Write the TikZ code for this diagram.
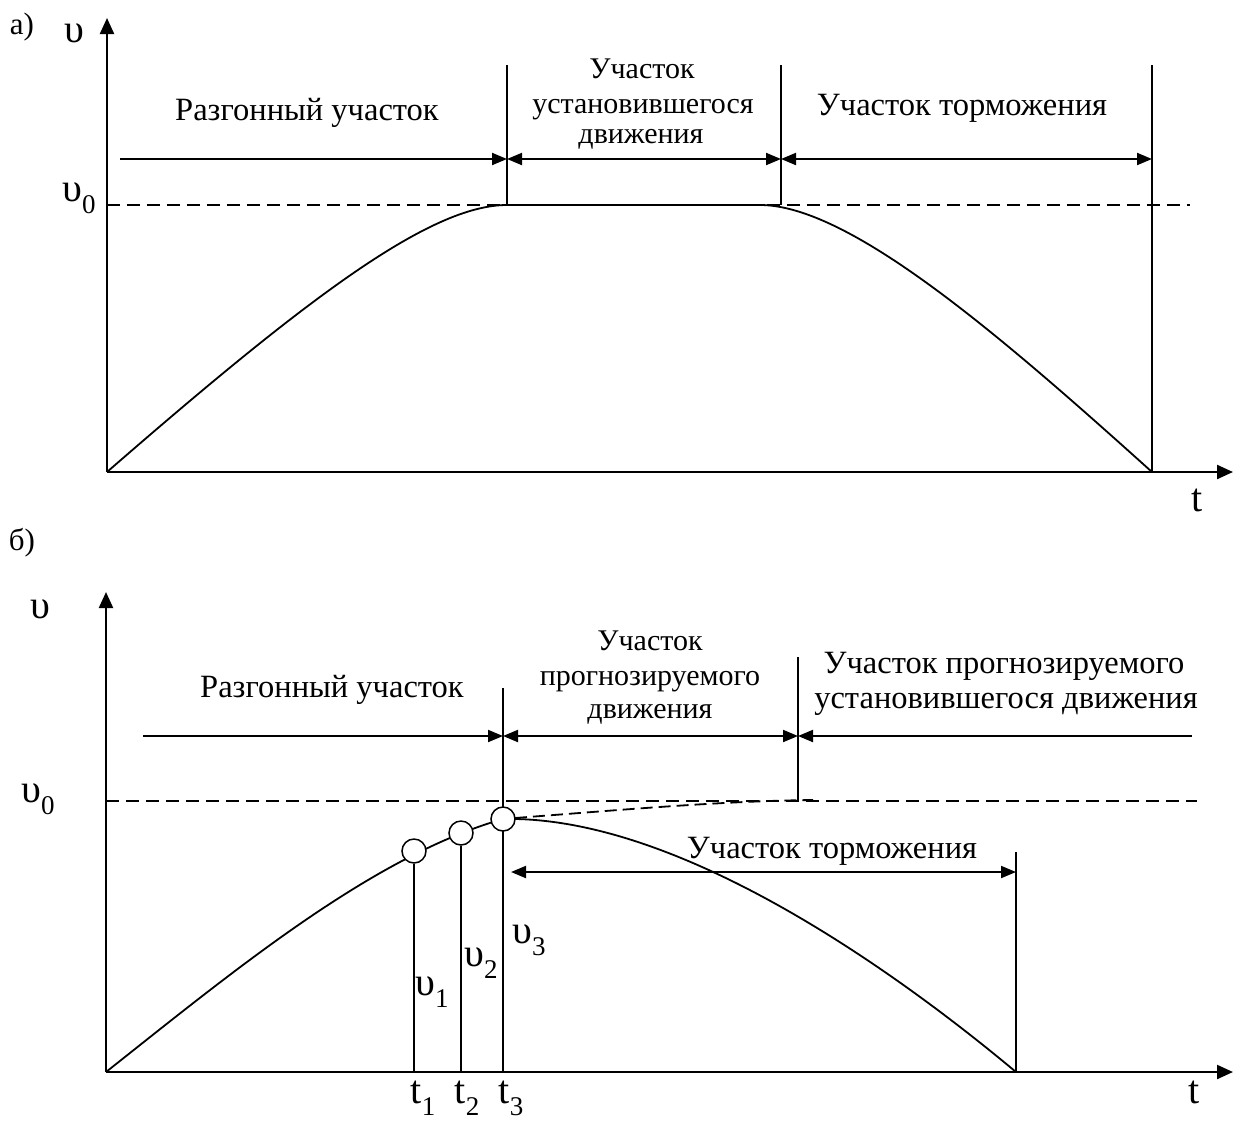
\documentclass[tikz,border=0pt]{standalone}
\usepackage{fontspec}
\setmainfont{Liberation Serif}
\usetikzlibrary{arrows.meta}
\newcommand{\lowidx}[1]{\raisebox{-0.3em}{\fontsize{27}{27}\selectfont #1}}
\begin{document}
\begin{tikzpicture}[x=1pt,y=-1pt,
  axis/.style={line width=2.2pt,-{Triangle[length=16pt,width=14pt]}},
  dim/.style={line width=2pt},
  guide/.style={line width=1.6pt},
  curve/.style={line width=1.8pt},
  dash0/.style={line width=1.4pt,dash pattern=on 13pt off 7pt},
  dash1/.style={line width=1.8pt,dash pattern=on 12pt off 6pt},
  lbl/.style={inner sep=0pt,font=\fontsize{32.5}{36}\selectfont,anchor=base},
  lbls/.style={inner sep=0pt,font=\fontsize{30}{34}\selectfont,anchor=base},
  sym/.style={inner sep=0pt,font=\fontsize{40}{44}\selectfont},
  circ/.style={circle,draw,fill=white,line width=1.5pt,minimum size=24pt,inner sep=0pt},
  tipr/.style={-{Triangle[length=15pt,width=12pt]}},
  tipb/.style={{Triangle[length=15pt,width=12pt]}-{Triangle[length=15pt,width=12pt]}},
  tipl/.style={{Triangle[length=15pt,width=12pt]}-}
]
\useasboundingbox (0,0) rectangle (1233,1120);

% ================= a) =================
\node[sym,font=\fontsize{31}{34}\selectfont] (la) at (22,27) {а)};
\coordinate (O1) at (107,472);
\coordinate (Y1) at (107,18);
\coordinate (X1) at (1233,472);
\draw[axis] (O1) -- (Y1);
\draw[axis] (O1) -- (X1);
\node[sym] (v1) at (74,33) {υ};
\node[sym] (v01) at (79,198) {υ\lowidx{0}};
\node[sym] (t1a) at (1197,500) {t};

\coordinate (D1a) at (107,205);
\coordinate (D1b) at (1190,205);
\draw[dash0] (D1a) -- (D1b);

% guides
\coordinate (G1t) at (507,65);  \coordinate (G1b) at (507,205);
\coordinate (G2t) at (781,65);  \coordinate (G2b) at (781,205);
\coordinate (G3t) at (1152,65); \coordinate (G3b) at (1152,472);
\draw[guide] (G1t) -- (G1b);
\draw[guide] (G2t) -- (G2b);
\draw[guide] (G3t) -- (G3b);

% dimension arrows
\coordinate (A1s) at (120,159);
\draw[dim,tipr] (A1s) -- (G1t |- A1s);
\draw[dim,tipb] (G1t |- A1s) -- (G2t |- A1s);
\draw[dim,tipb] (G2t |- A1s) -- (G3t |- A1s);

% curve
\draw[curve] (O1) .. controls (307,298) and (430,205) .. (507,205)
  -- (760,205) .. controls (850,205) and (1002,337) .. (G3b);

% labels
\node[lbl] (ta1) at (307,120) {Разгонный участок};
\node[lbls] (tb1) at (642,78) {Участок};
\node[lbls] (tb2) at (643,113) {установившегося};
\node[lbls] (tb3) at (641,143) {движения};
\node[lbl] (tc1) at (962,115) {Участок торможения};

% ================= b) =================
\node[sym,font=\fontsize{31}{34}\selectfont] (lb) at (22,543) {б)};
\coordinate (O2) at (106,1072);
\coordinate (Y2) at (106,592);
\coordinate (X2) at (1233,1072);
\draw[axis] (O2) -- (Y2);
\draw[axis] (O2) -- (X2);
\node[sym] (v2) at (40,609) {υ};
\node[sym] (v02) at (38,799) {υ\lowidx{0}};
\node[sym] (t2a) at (1194,1092) {t};

\coordinate (D2a) at (106,801);
\coordinate (D2b) at (1197,801);
\draw[dash0] (D2a) -- (D2b);

% guides
\coordinate (H1t) at (503,688);
\coordinate (H2t) at (798,657); \coordinate (H2b) at (798,800);
\coordinate (H3t) at (1016,852); \coordinate (H3b) at (1016,1072);
\draw[guide] (H1t) -- (H1t |- O2);
\draw[guide] (H2t) -- (H2b);
\draw[guide] (H3t) -- (H3b);

% curve
\draw[curve] (O2) .. controls (236,969) and (373,856) .. (503,819)
  .. controls (680,815) and (900,975) .. (H3b);
\draw[dash1] (515,818) .. controls (620,810) and (720,801) .. (813,800);

% circles
\node[circ] (c1) at (414,851) {};
\node[circ] (c2) at (461,833) {};
\node[circ] (c3) at (503,819) {};
\draw[guide] (c1.south) -- (c1 |- O2);
\draw[guide] (c2.south) -- (c2 |- O2);

% dimension arrows
\coordinate (B1s) at (143,736);
\coordinate (B3e) at (1192,736);
\draw[dim,tipr] (B1s) -- (H1t |- B1s);
\draw[dim,tipb] (H1t |- B1s) -- (H2t |- B1s);
\draw[dim,tipl] (H2t |- B1s) -- (B3e);
\coordinate (B4s) at (511,872);
\draw[dim,tipb] (B4s) -- (H3t |- B4s);

% labels
\node[lbl] (tb4) at (332,697) {Разгонный участок};
\node[lbls] (tb5) at (650,650) {Участок};
\node[lbls] (tb6) at (650,685) {прогнозируемого};
\node[lbls] (tb7) at (650,718) {движения};
\node[lbl] (tb8) at (1004,673) {Участок прогнозируемого};
\node[lbl] (tb9) at (1006,708) {установившегося движения};
\node[lbl] (tb10) at (832,858) {Участок торможения};

\node[sym] (s1) at (432,992) {υ\lowidx{1}};
\node[sym] (s2) at (481,963) {υ\lowidx{2}};
\node[sym] (s3) at (529,940) {υ\lowidx{3}};
\node[sym] (q1) at (423,1098) {t\lowidx{1}};
\node[sym] (q2) at (467,1098) {t\lowidx{2}};
\node[sym] (q3) at (511,1098) {t\lowidx{3}};
\end{tikzpicture}
\end{document}
